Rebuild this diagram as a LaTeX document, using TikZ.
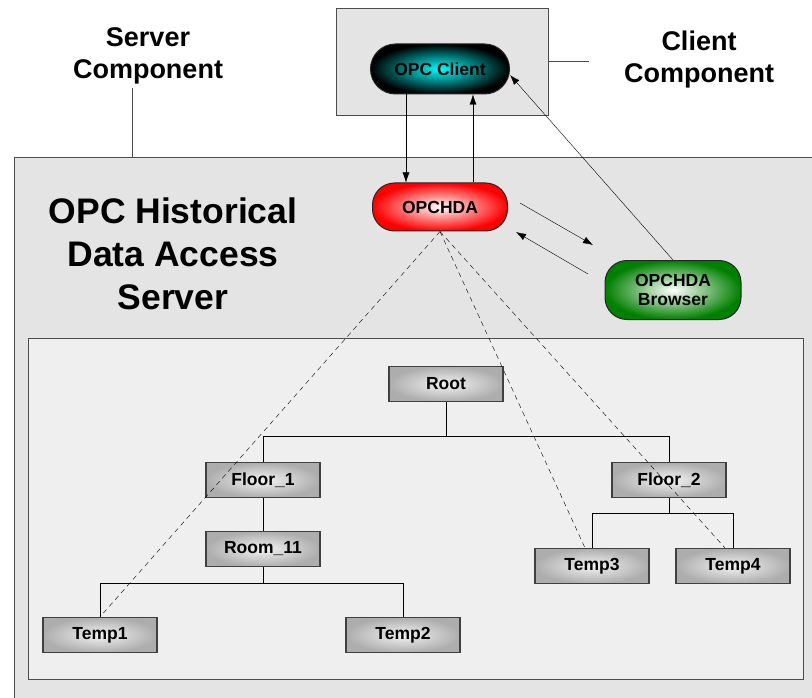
\documentclass[tikz,border=0pt]{standalone}
\usepackage{fontspec}
\setmainfont{Liberation Sans}
\usetikzlibrary{positioning,arrows.meta,calc}

\definecolor{srvgray}{HTML}{E4E4E4}
\definecolor{treegray}{HTML}{EFEFEF}
\definecolor{hdared}{HTML}{FF0000}
\definecolor{brwgreen}{HTML}{008000}

\begin{document}
\begin{tikzpicture}[
						x=1pt, y=-1pt,
						>={Latex[length=10pt,width=7pt]},
						panel/.style={draw=black!70, line width=1pt},
						pill/.style={draw=black!85, line width=1pt, rounded corners=22pt,
							minimum width=136pt, align=center,
							font=\bfseries\fontsize{17.5}{19}\selectfont},
						leaf/.style={draw=black!75, line width=1.2pt,
							inner color=white!95!black, outer color=black!32,
							minimum width=114pt, minimum height=35pt,
							font=\bfseries\fontsize{17.5}{19}\selectfont},
						tag/.style={align=center, font=\bfseries\fontsize{27}{32}\selectfont}
					]
					\useasboundingbox (0,0) rectangle (812,698);
					\clip (0,0) rectangle (812,698);

					% boxes
					\draw[panel, fill=srvgray] (14,158) rectangle (840,720);
					\draw[panel, fill=treegray] (28,338) rectangle (803,679);
					\node[panel, fill=srvgray, minimum width=212pt, minimum height=107pt] (cbox) at (442,62) {};

					% labels
					\node[tag] (srvlbl) at (148,56) {Server\\Component};
					\node[tag] (clilbl) at (699,60) {Client\\Component};
					\node[align=center, font=\bfseries\fontsize{35.5}{43}\selectfont] (title) at (173,254) {OPC Historical\\Data Access\\Server};
					\coordinate (stop) at (132,158);
					\draw[black!70, line width=1pt] (srvlbl.south -| stop) -- (stop);
					\draw[black!70, line width=1pt] (cbox.east) -- ++(40,0);

					% components
					\node[pill, minimum width=139pt, minimum height=50pt, rounded corners=25pt,
						inner color=cyan, outer color=black] (cli) at (440,69) {OPC Client};
					\node[pill, minimum width=135pt, minimum height=48pt,
						inner color=white, outer color=hdared] (hda) at (440,207) {OPCHDA};
					\node[pill, minimum width=136pt, minimum height=59pt,
						inner color=white, outer color=brwgreen] (brw) at (673,290) {OPCHDA\\Browser};

					% tree
					\node[leaf] (root) at (446,384) {Root};
					\node[leaf] (f1) at (263,480) {Floor\_1};
					\node[leaf] (r11) at (263,549) {Room\_11};
					\node[leaf] (f2) at (669,480) {Floor\_2};
					\node[leaf] (t1) at (100,635) {Temp1};
					\node[leaf] (t2) at (403,635) {Temp2};
					\node[leaf] (t3) at (592,566) {Temp3};
					\node[leaf] (t4) at (733,566) {Temp4};

					\draw (root.south) -- ++(0,34) coordinate (rj);
					\draw (f1.north) |- (rj) -| (f2.north);
					\draw (f1) -- (r11);
					\draw (r11.south) -- ++(0,16) coordinate (rj2);
					\draw (t1.north) |- (rj2) -| (t2.north);
					\draw (f2.south) -- ++(0,15) coordinate (fj);
					\draw (t3.north) |- (fj) -| (t4.north);

					% calls
					\draw[->] ([xshift=-34pt]cli.south) -- ([xshift=-34pt]hda.north);
					\draw[->] ([xshift=33pt]hda.north) -- ([xshift=33pt]cli.south);
					\draw[->] (brw.north) -- ([yshift=-6pt]cli.east);
					\coordinate (a1) at (520,203);
					\coordinate (a2) at (593,245);
					\coordinate (b1) at (588,274);
					\coordinate (b2) at (516,232);
					\draw[->] (a1) -- (a2);
					\draw[->] (b1) -- (b2);

					% browse links
					\draw[dash pattern=on 5pt off 4pt] (hda.south) -- (t1.north);
					\draw[dash pattern=on 5pt off 4pt] (hda.south) -- ([xshift=-7pt]t3.north);
					\draw[dash pattern=on 5pt off 4pt] (hda.south) -- ([xshift=-8pt]t4.north);
				\end{tikzpicture}
\end{document}
